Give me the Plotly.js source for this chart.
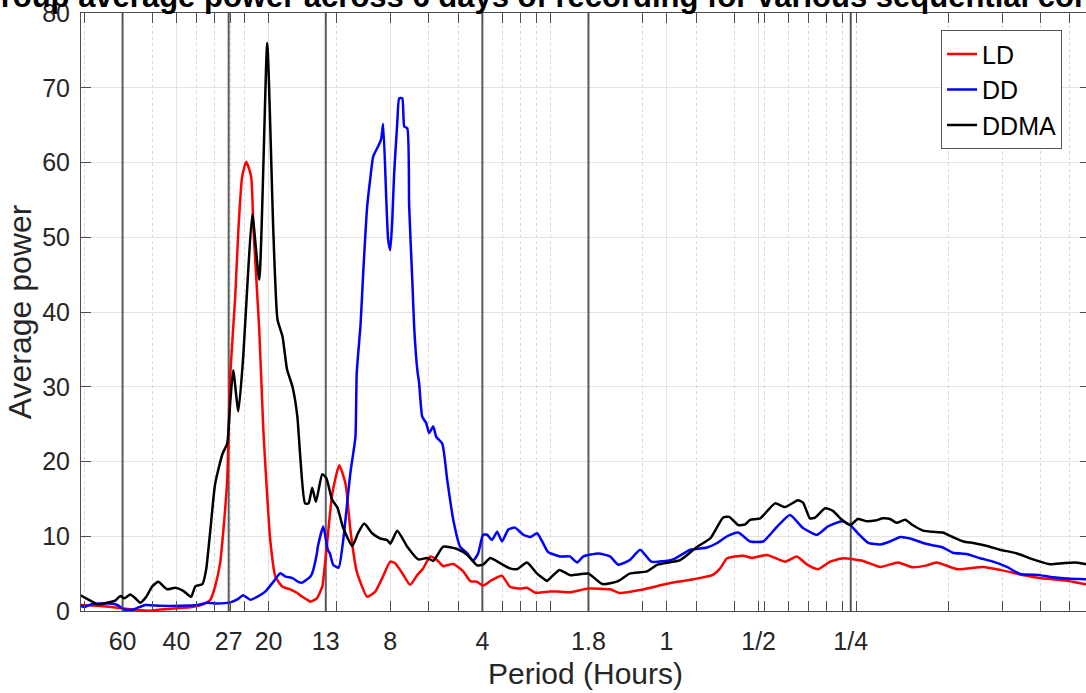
<!DOCTYPE html>
<html>
<head>
<meta charset="utf-8">
<script src="https://cdn.plot.ly/plotly-3.0.1.min.js"></script>
<style>
  html, body { margin: 0; padding: 0; background: #fff; overflow: hidden; width: 1086px; height: 693px; }
  #chart { position: absolute; left: 0; top: -30px; width: 1100px; height: 723px; }
</style>
</head>
<body>
<div id="chart"></div>
<script>
// Average power per period (hours) for each recording condition
const ldPeriod = [82.5, 72.6, 62.4, 57.9, 53.7, 48.7, 45.2, 39.8, 35.2, 32.7, 31.0, 29.9, 28.8, 28.1, 27.3, 27.0, 26.7, 25.7, 25.1, 24.4, 23.65, 22.8, 22.4, 21.45, 20.8, 20.35, 19.75, 19.0, 18.0, 17.0, 16.1, 15.5, 14.8, 14.6, 13.9, 13.35, 13.25, 12.9, 12.4, 11.75, 11.2, 10.8, 10.3, 9.52, 8.96, 8.50, 8.00, 7.71, 7.31, 6.89, 6.53, 6.25, 5.92, 5.62, 5.37, 4.98, 4.62, 4.38, 4.16, 3.98, 3.72, 3.45, 3.25, 3.01, 2.86, 2.69, 2.55, 2.40, 2.28, 2.07, 1.80, 1.53, 1.42, 1.22, 1.03, 0.924, 0.818, 0.709, 0.668, 0.634, 0.562, 0.525, 0.469, 0.410, 0.375, 0.347, 0.320, 0.292, 0.265, 0.228, 0.200, 0.175, 0.157, 0.141, 0.131, 0.112, 0.0922, 0.0813, 0.0663, 0.0602, 0.0491, 0.0429, 0.0407];
const ldPower = [0.8, 0.7, 0.45, 0.27, 0.13, 0.05, 0.2, 0.36, 0.58, 0.9, 1.5, 3.3, 6.4, 10.8, 17.5, 24.2, 31.4, 42.1, 51.0, 58.1, 60.1, 58.1, 51.0, 37.6, 24.2, 17.5, 9.5, 4.6, 3.25, 2.9, 2.4, 1.9, 1.4, 1.25, 1.7, 3.25, 4.15, 8.6, 15.5, 19.5, 17.0, 10.8, 5.3, 1.9, 2.6, 4.4, 6.6, 6.4, 5.05, 3.5, 4.8, 5.7, 7.3, 6.8, 6.0, 6.3, 5.3, 4.0, 3.9, 3.4, 4.15, 4.7, 3.25, 3.0, 3.1, 2.45, 2.5, 2.6, 2.6, 2.5, 3.0, 2.9, 2.4, 2.8, 3.5, 3.9, 4.25, 4.8, 5.7, 7.05, 7.4, 7.1, 7.5, 6.6, 7.3, 6.2, 5.6, 6.6, 7.05, 6.7, 5.9, 6.5, 5.85, 6.1, 6.5, 5.6, 5.9, 5.5, 4.7, 4.4, 4.05, 3.6, 3.5];

const ddPeriod = [82.5, 79.4, 75.4, 65.8, 62.4, 59.2, 55.4, 50.6, 45.2, 38.9, 34.2, 31.7, 29.4, 26.7, 25.3, 24.2, 22.95, 21.8, 20.5, 19.3, 18.3, 17.6, 16.7, 16.0, 15.5, 14.6, 14.4, 13.9, 13.8, 13.25, 12.8, 12.6, 12.3, 11.8, 11.4, 10.8, 10.4, 10.3, 10.0, 9.81, 9.52, 9.31, 9.10, 8.76, 8.57, 8.44, 8.25, 8.13, 8.00, 7.88, 7.77, 7.59, 7.48, 7.31, 7.20, 7.04, 6.94, 6.78, 6.68, 6.53, 6.44, 6.29, 6.10, 5.97, 5.79, 5.66, 5.41, 5.21, 4.98, 4.73, 4.48, 4.29, 4.13, 3.98, 3.86, 3.72, 3.58, 3.45, 3.29, 3.13, 2.94, 2.79, 2.65, 2.55, 2.44, 2.23, 2.07, 1.96, 1.87, 1.67, 1.53, 1.44, 1.32, 1.22, 1.12, 0.952, 0.837, 0.737, 0.683, 0.634, 0.583, 0.533, 0.483, 0.435, 0.395, 0.358, 0.322, 0.297, 0.267, 0.251, 0.237, 0.219, 0.200, 0.186, 0.172, 0.160, 0.145, 0.135, 0.125, 0.116, 0.104, 0.0943, 0.0856, 0.0772, 0.0699, 0.0602, 0.0546, 0.0480, 0.0429, 0.0407];
const ddPower = [0.67, 0.58, 0.94, 1.0, 0.8, 0.2, 0.2, 0.8, 0.7, 0.7, 0.8, 1.1, 1.0, 1.15, 1.55, 2.1, 1.5, 1.9, 2.6, 3.9, 5.05, 4.6, 4.4, 3.9, 3.8, 4.6, 5.05, 7.7, 8.6, 11.3, 8.2, 7.7, 6.2, 5.8, 9.5, 18.5, 23.3, 31.8, 38.5, 45.2, 54.1, 57.7, 60.8, 62.2, 63.1, 65.2, 55.4, 49.7, 48.3, 52.3, 58.6, 65.3, 68.6, 68.6, 64.8, 64.6, 54.1, 44.3, 37.8, 32.3, 30.5, 26.0, 25.1, 23.8, 24.7, 23.3, 22.4, 17.5, 12.2, 8.6, 7.7, 6.7, 7.7, 10.2, 10.2, 9.5, 10.6, 9.3, 10.9, 11.15, 10.2, 9.9, 10.4, 9.3, 7.9, 7.3, 7.3, 6.5, 7.3, 7.7, 7.3, 6.2, 6.8, 8.2, 6.6, 6.9, 8.2, 8.5, 9.1, 10.0, 10.5, 9.3, 9.3, 11.3, 12.85, 11.1, 10.2, 11.3, 12.0, 11.5, 10.4, 9.1, 8.9, 9.3, 9.9, 9.7, 9.1, 8.8, 8.5, 7.8, 7.6, 7.05, 6.6, 5.9, 4.95, 4.8, 4.5, 4.3, 4.25, 4.2];

const ddmaPeriod = [82.5, 76.5, 72.6, 65.8, 63.4, 61.0, 59.2, 56.6, 54.5, 52.5, 50.2, 48.0, 45.9, 42.9, 40.4, 38.0, 35.8, 34.7, 32.9, 32.0, 31.0, 29.9, 28.3, 27.3, 26.7, 26.1, 25.1, 24.2, 23.5, 22.6, 21.45, 20.2, 19.3, 18.7, 18.0, 17.4, 16.7, 16.1, 15.8, 15.2, 14.8, 14.4, 14.0, 13.35, 12.95, 12.4, 11.9, 11.4, 10.65, 10.2, 9.74, 9.17, 8.63, 8.19, 8.00, 7.59, 7.04, 6.48, 6.06, 5.79, 5.37, 4.84, 4.48, 4.16, 3.98, 3.77, 3.50, 3.25, 3.08, 2.86, 2.65, 2.49, 2.46, 2.24, 2.07, 1.80, 1.62, 1.44, 1.32, 1.16, 1.07, 0.903, 0.794, 0.720, 0.653, 0.624, 0.583, 0.553, 0.533, 0.494, 0.442, 0.410, 0.372, 0.358, 0.340, 0.327, 0.303, 0.286, 0.267, 0.251, 0.237, 0.221, 0.208, 0.196, 0.186, 0.177, 0.166, 0.157, 0.145, 0.135, 0.125, 0.116, 0.107, 0.0994, 0.0895, 0.0813, 0.0715, 0.0634, 0.0558, 0.0506, 0.0462, 0.0429, 0.0407];
const ddmaPower = [2.1, 1.4, 0.9, 1.2, 1.4, 2.0, 1.7, 2.2, 1.7, 1.1, 1.9, 3.3, 3.9, 2.9, 3.1, 2.7, 1.9, 3.3, 3.6, 5.5, 10.8, 17.0, 21.0, 22.4, 27.8, 32.2, 26.7, 34.0, 43.0, 53.1, 44.3, 76.0, 51.0, 39.0, 36.7, 32.3, 30.0, 26.0, 21.4, 14.4, 14.4, 16.5, 14.6, 18.3, 17.8, 14.9, 13.8, 11.1, 8.7, 10.4, 11.7, 10.4, 9.7, 9.5, 9.0, 10.75, 8.6, 6.9, 7.1, 6.7, 8.6, 8.3, 7.5, 6.1, 6.2, 7.1, 6.4, 5.7, 5.6, 6.5, 5.0, 4.15, 4.0, 5.5, 4.8, 5.0, 3.6, 4.0, 5.0, 5.3, 6.2, 6.8, 8.6, 9.7, 12.5, 12.6, 11.5, 11.6, 12.2, 12.4, 14.4, 13.9, 14.8, 14.5, 12.4, 12.5, 13.75, 13.4, 12.2, 11.5, 12.3, 12.0, 12.1, 12.4, 12.3, 11.8, 12.2, 11.5, 10.75, 10.6, 10.5, 9.9, 9.3, 9.1, 8.7, 8.2, 7.7, 6.9, 6.25, 6.4, 6.5, 6.3, 6.2];

// Axis ticks (period in hours) and their labels
const tickPeriods = [60, 40, 27, 20, 13, 8, 4, 1.8, 1, 0.5, 0.25];
const tickLabels = ['60', '40', '27', '20', '13', '8', '4', '1.8', '1', '1/2', '1/4'];
// Reference periods marked with vertical lines
const markerPeriods = [60, 27, 13, 4, 1.8, 0.25];
// Minor gridlines sit at round frequencies (cycles per day)
const minorFreqPerDay = [0.3, 0.5, 0.7, 0.8, 0.9, 1, 2, 4, 5, 7, 8, 9, 10, 20, 30, 40, 50, 60, 70, 80, 90, 100, 200, 300, 400, 500];
const yTicks = [0, 10, 20, 30, 40, 50, 60, 70, 80];

const axisGrey = '#4d4d4d';
const textGrey = '#262626';
const curveLine = (color) => ({ color: color, width: 2.5, shape: 'spline', smoothing: 0.5 });

const traces = [];
markerPeriods.forEach(p => {
  traces.push({
    x: [p, p], y: [0, 80], mode: 'lines', showlegend: false, hoverinfo: 'skip',
    line: { color: '#5c5c5c', width: 2 }
  });
});
traces.push({ x: ldPeriod, y: ldPower, name: 'LD', mode: 'lines', line: curveLine('#ff0000') });
traces.push({ x: ddPeriod, y: ddPower, name: 'DD', mode: 'lines', line: curveLine('#0000ff') });
traces.push({ x: ddmaPeriod, y: ddmaPower, name: 'DDMA', mode: 'lines', line: curveLine('#000000') });

const layout = {
  width: 1100, height: 723,
  margin: { l: 81, r: 10, t: 43, b: 82 },
  paper_bgcolor: '#ffffff', plot_bgcolor: '#ffffff',
  font: { family: '"Liberation Sans", Arial, Helvetica, sans-serif', color: textGrey },
  title: {
    text: 'Group average power across 6 days of recording for various sequential conditions',
    font: { size: 31, color: '#000000', weight: 'bold' },
    xref: 'paper', x: 0.5, xanchor: 'center',
    yref: 'paper', y: 1, yanchor: 'bottom', pad: { b: 6 }
  },
  xaxis: {
    type: 'log',
    range: [Math.log10(82.05), Math.log10(0.04129)],
    tickmode: 'array', tickvals: tickPeriods, ticktext: tickLabels,
    ticks: 'inside', ticklen: 10, tickwidth: 1, tickcolor: axisGrey,
    showline: true, linecolor: axisGrey, linewidth: 1, mirror: 'allticks',
    showgrid: true, gridcolor: '#e3e3e3', gridwidth: 1, zeroline: false,
    tickfont: { size: 25, color: textGrey }, ticklabelstandoff: 8,
    minor: {
      tickmode: 'array', tickvals: minorFreqPerDay.map(f => 24 / f),
      ticks: 'inside', ticklen: 10, tickwidth: 1, tickcolor: axisGrey,
      showgrid: true, gridcolor: '#d6d6d6', griddash: 'dot', gridwidth: 1
    },
    title: { text: 'Period (Hours)', font: { size: 30, color: textGrey }, standoff: 8 }
  },
  yaxis: {
    range: [0, 80],
    tickmode: 'array', tickvals: yTicks,
    ticks: 'inside', ticklen: 10, tickwidth: 1, tickcolor: axisGrey,
    showline: true, linecolor: axisGrey, linewidth: 1, mirror: 'allticks',
    showgrid: true, gridcolor: '#e3e3e3', gridwidth: 1, zeroline: false,
    tickfont: { size: 25, color: textGrey }, ticklabelstandoff: 5,
    title: { text: 'Average power', font: { size: 32, color: textGrey }, standoff: 0 }
  },
  legend: {
    x: 0.9723, xanchor: 'right', y: 0.971, yanchor: 'top',
    bgcolor: '#ffffff', bordercolor: '#555555', borderwidth: 1,
    font: { size: 25, color: '#000000' }, itemwidth: 30
  },
  showlegend: true
};

Plotly.newPlot('chart', traces, layout, { displayModeBar: false, staticPlot: true });
</script>
</body>
</html>
